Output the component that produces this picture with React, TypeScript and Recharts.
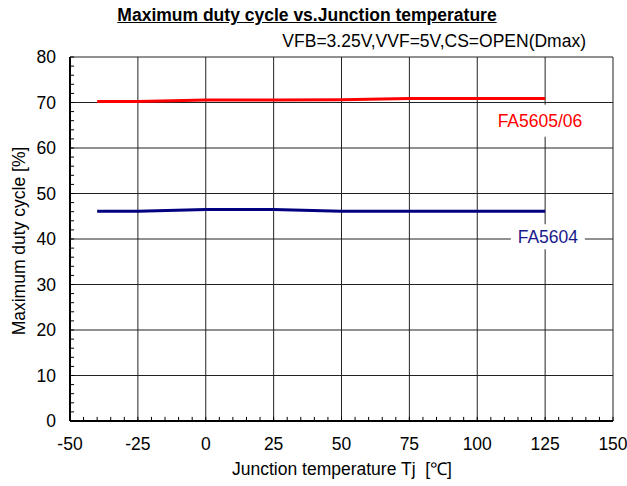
import {
    CartesianGrid,
    Line,
    LineChart,
    ReferenceDot,
    ReferenceLine,
    XAxis,
    YAxis,
} from "recharts";

const temps = [-40, -25, 0, 25, 50, 75, 100, 125];
const fa5605 = [70.2, 70.2, 70.55, 70.55, 70.6, 70.9, 70.9, 70.9];
const fa5604 = [46.1, 46.1, 46.5, 46.5, 46.1, 46.1, 46.1, 46.1];

const xTicks = [-50, -25, 0, 25, 50, 75, 100, 125, 150];
const yTicks = [0, 10, 20, 30, 40, 50, 60, 70, 80];
const xMinor = Array.from({ length: 41 }, (_, i) => -50 + i * 5);
const yMinor = Array.from({ length: 41 }, (_, i) => i * 2);

const data = temps.map((t, i) => ({ t, fa5605: fa5605[i], fa5604: fa5604[i] }));

const FONT = "'Liberation Sans', Arial, sans-serif";
const FS = 17.5;

function tagShape(text: string, color: string, w: number, h: number) {
    return (p: any) => (
        <g>
            <rect x={p.cx - w / 2} y={p.cy - h / 2} width={w} height={h} fill="#fff" />
            <text
                x={p.cx}
                y={p.cy}
                textAnchor="middle"
                dominantBaseline="central"
                fill={color}
                fontSize={FS}
                fontFamily={FONT}
            >
                {text}
            </text>
        </g>
    );
}

export default function App() {
    return (
        <div
            style={{
                position: "absolute",
                left: 0,
                top: 0,
                width: 627,
                height: 486,
                background: "#fff",
                fontFamily: FONT,
            }}
        >
            <div
                style={{
                    position: "absolute",
                    top: 5,
                    left: 0,
                    width: 614,
                    textAlign: "center",
                    fontSize: FS,
                    lineHeight: "21px",
                    fontWeight: "bold",
                    textDecoration: "underline",
                }}
            >
                Maximum duty cycle vs.Junction temperature
            </div>
            <div
                style={{
                    position: "absolute",
                    top: 31,
                    right: 41,
                    fontSize: FS,
                    lineHeight: "21px",
                    whiteSpace: "nowrap",
                }}
            >
                VFB=3.25V,VVF=5V,CS=OPEN(Dmax)
            </div>
            <div
                style={{
                    position: "absolute",
                    left: 19,
                    top: 241,
                    transform: "translate(-50%, -50%) rotate(-90deg)",
                    fontSize: FS,
                    whiteSpace: "nowrap",
                }}
            >
                Maximum duty cycle [%]
            </div>
            <div
                style={{
                    position: "absolute",
                    left: 342,
                    top: 468,
                    transform: "translate(-50%, -50%)",
                    fontSize: FS,
                    whiteSpace: "nowrap",
                }}
            >
                Junction temperature Tj&nbsp;&nbsp;[℃]
            </div>
            <LineChart
                width={627}
                height={486}
                data={data}
                margin={{ top: 57, right: 14, left: 0, bottom: 0 }}
                style={{ position: "absolute", left: 0, top: 0 }}
            >
                <CartesianGrid stroke="#222" strokeWidth={1} />
                <XAxis
                    type="number"
                    dataKey="t"
                    domain={[-50, 150]}
                    ticks={xTicks}
                    height={65}
                    tickLine={false}
                    tickSize={0}
                    tickMargin={17}
                    axisLine={{ stroke: "#000", strokeWidth: 2 }}
                    tick={{ fontSize: FS, fill: "#000", fontFamily: FONT }}
                />
                <YAxis
                    type="number"
                    domain={[0, 80]}
                    ticks={yTicks}
                    width={70}
                    tickLine={false}
                    tickSize={0}
                    tickMargin={14}
                    axisLine={{ stroke: "#000", strokeWidth: 2 }}
                    tick={{ fontSize: FS, fill: "#000", fontFamily: FONT }}
                />
                {xMinor.map((v) => (
                    <ReferenceLine
                        key={"xm" + v}
                        segment={[
                            { x: v, y: 0 },
                            { x: v, y: 0.9 },
                        ]}
                        stroke="#000"
                        strokeWidth={1}
                    />
                ))}
                {yMinor.map((v) => (
                    <ReferenceLine
                        key={"ym" + v}
                        segment={[
                            { x: -50, y: v },
                            { x: -48.5, y: v },
                        ]}
                        stroke="#000"
                        strokeWidth={1}
                    />
                ))}
                <Line
                    type="linear"
                    dataKey="fa5605"
                    stroke="#ff0000"
                    strokeWidth={3}
                    dot={false}
                    isAnimationActive={false}
                />
                <Line
                    type="linear"
                    dataKey="fa5604"
                    stroke="#000080"
                    strokeWidth={3}
                    dot={false}
                    isAnimationActive={false}
                />
                <ReferenceDot
                    x={123.1}
                    y={66}
                    r={0}
                    shape={tagShape("FA5605/06", "#ff0000", 92, 32)}
                />
                <ReferenceDot
                    x={126}
                    y={40.5}
                    r={0}
                    shape={tagShape("FA5604", "#1a1a8c", 74, 25)}
                />
            </LineChart>
        </div>
    );
}
